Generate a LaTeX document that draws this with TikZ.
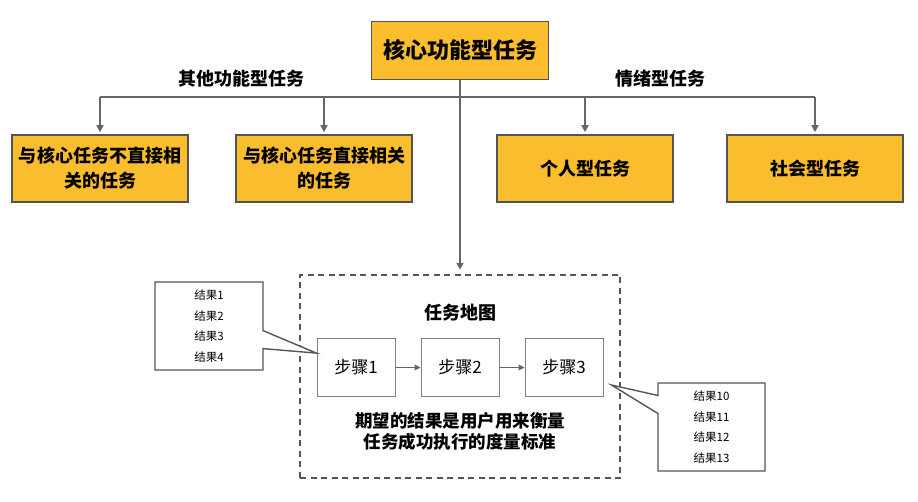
\documentclass[tikz,border=0pt]{standalone}
\usepackage{fontspec}
\setmainfont{Noto Sans CJK SC}
\usetikzlibrary{arrows.meta,shapes.callouts,calc}
\definecolor{taskorange}{HTML}{FABD2D}
\definecolor{edgegray}{HTML}{555555}
\definecolor{linkgray}{HTML}{666666}
\definecolor{stepgray}{HTML}{808080}
\tikzset{
	taskbox/.style={draw=edgegray, line width=1.6pt, fill=taskorange, align=center,
		minimum width=176pt, minimum height=67pt, inner sep=0pt,
		font=\bfseries\fontsize{18}{25}\selectfont},
	lbl/.style={inner sep=0pt, align=center, font=\bfseries\fontsize{18}{21}\selectfont},
	stepbox/.style={draw=stepgray, line width=1pt, minimum width=78pt, minimum height=57pt,
		inner sep=0pt, font=\fontsize{17}{20}\selectfont},
	mapbox/.style={draw=edgegray, line width=2.4pt, dash pattern=on 6pt off 4.5pt,
		minimum width=320pt, minimum height=203pt, inner sep=0pt},
	outbox/.style={rectangle callout, draw=edgegray, line width=1.4pt, fill=white,
		callout pointer width=18pt, minimum width=108pt, minimum height=88pt, inner sep=0pt,
		align=center, font=\fontsize{11.5}{20.5}\selectfont},
	link/.style={draw=linkgray, line width=1.7pt},
	tip/.style={-{Triangle[length=7pt,width=7pt]}, shorten >=2pt}
}
\begin{document}
\begin{tikzpicture}[x=1pt,y=-1pt]
	\useasboundingbox (0,0) rectangle (918,502);
	
	%core task
	\node (core) at (460,50.5) [taskbox, minimum width=177pt, minimum height=58pt,
		font=\bfseries\fontsize{22}{26}\selectfont]{核心功能型任务};
	
	%second row
	\node (indirect) at (100,168.5) [taskbox]{与核心任务不直接相\\关的任务};
	\node (direct) at (324,168.5) [taskbox]{与核心任务直接相关\\的任务};
	\node (personal) at (585,168.5) [taskbox]{个人型任务};
	\node (social) at (815,168.5) [taskbox]{社会型任务};
	
	\coordinate (bus) at (460,97);
	\draw[link] (bus -| indirect) -- (bus -| social);
	\foreach \n in {indirect, direct, personal, social}{
		\draw[link,tip] (bus -| \n) -- (\n.north);
	}
	\node (otherlbl) at (241,79) [lbl]{其他功能型任务};
	\node (emotionlbl) at (660,79) [lbl]{情绪型任务};
	
	%task map
	\node (map) at (460,376.5) [mapbox]{};
	\draw[link,tip,shorten >=4pt] (core.south) -- (map.north);
	\node (maptitle) at (460,313) [lbl]{任务地图};
	
	\node (step1) at (356,367.5) [stepbox]{步骤1};
	\node (step2) at (460,367.5) [stepbox]{步骤2};
	\node (step3) at (564,367.5) [stepbox]{步骤3};
	\draw[draw=linkgray, line width=1.1pt, -{Triangle[length=6pt,width=6pt]}] (step1) -- (step2);
	\draw[draw=linkgray, line width=1.1pt, -{Triangle[length=6pt,width=6pt]}] (step2) -- (step3);
	
	\node (goal) at (460,431.5) [lbl, font=\bfseries\fontsize{17.5}{21}\selectfont]{期望的结果是用户用来衡量\\任务成功执行的度量标准};
	
	%results
	\node (firstout) at (209,326) [outbox, callout absolute pointer={(step1.160)}]{结果1\\结果2\\结果3\\结果4};
	\node (lastout) at (711.5,427) [outbox, minimum width=107pt,
		callout absolute pointer={($(step3.east)+(8,17.5)$)}]{结果10\\结果11\\结果12\\结果13};
\end{tikzpicture}
\end{document}
